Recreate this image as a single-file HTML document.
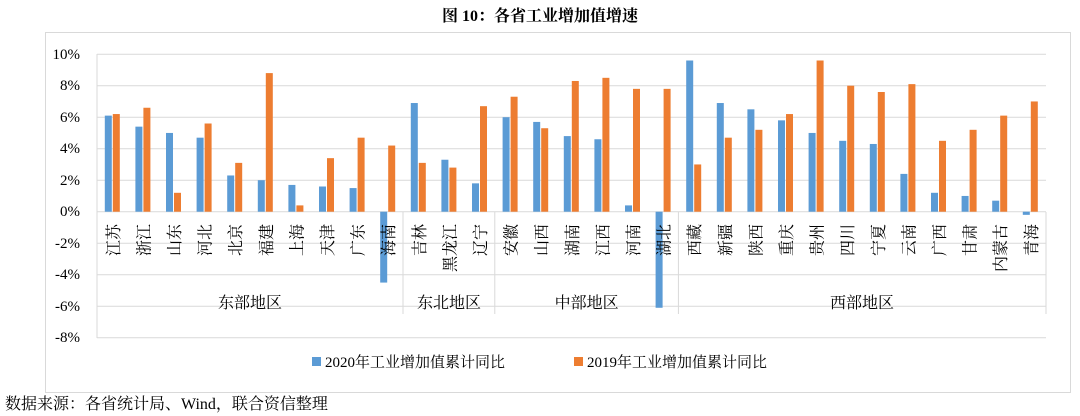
<!DOCTYPE html>
<html><head><meta charset="utf-8"><style>
body{margin:0;background:#fff;}
svg{display:block;font-family:"Liberation Serif","Noto Serif CJK SC",serif;}
</style></head><body>
<svg width="1080" height="416" viewBox="0 0 1080 416" xmlns="http://www.w3.org/2000/svg">
<text x="540" y="21" text-anchor="middle" font-size="16" font-weight="bold" fill="#000">图 10：各省工业增加值增速</text>
<rect x="45.5" y="32.5" width="1025" height="360" fill="none" stroke="#d9d9d9"/>
<g stroke="#d9d9d9" stroke-width="1">
<line x1="97" x2="1046" y1="54.2" y2="54.2"/>
<line x1="97" x2="1046" y1="85.7" y2="85.7"/>
<line x1="97" x2="1046" y1="117.2" y2="117.2"/>
<line x1="97" x2="1046" y1="148.7" y2="148.7"/>
<line x1="97" x2="1046" y1="180.2" y2="180.2"/>
<line x1="97" x2="1046" y1="243.2" y2="243.2"/>
<line x1="97" x2="1046" y1="274.7" y2="274.7"/>
<line x1="97" x2="1046" y1="306.2" y2="306.2"/>
<line x1="97" x2="1046" y1="337.7" y2="337.7"/>
<line x1="97" x2="97" y1="54" y2="338"/>
<line x1="97" x2="1046" y1="211.7" y2="211.7"/>
<line x1="403" x2="403" y1="212" y2="314"/>
<line x1="494.8" x2="494.8" y1="212" y2="314"/>
<line x1="678.4" x2="678.4" y1="212" y2="314"/>
<line x1="1046" x2="1046" y1="212" y2="314"/>
</g>
<g font-size="15" text-anchor="end" fill="#000">
<text x="80" y="59">10%</text><text x="80" y="90">8%</text><text x="80" y="122">6%</text>
<text x="80" y="153">4%</text><text x="80" y="185">2%</text><text x="80" y="216">0%</text>
<text x="80" y="248">-2%</text><text x="80" y="279">-4%</text><text x="80" y="311">-6%</text>
<text x="80" y="342">-8%</text>
</g>
<g transform="translate(0 211.7) scale(1 -15.75)">
<g fill="#5B9BD5">
<rect x="104.8" y="0" width="7" height="6.1"/><rect x="135.4" y="0" width="7" height="5.4"/>
<rect x="166" y="0" width="7" height="5.0"/><rect x="196.6" y="0" width="7" height="4.7"/>
<rect x="227.2" y="0" width="7" height="2.3"/><rect x="257.8" y="0" width="7" height="2.0"/>
<rect x="288.4" y="0" width="7" height="1.7"/><rect x="319" y="0" width="7" height="1.6"/>
<rect x="349.6" y="0" width="7" height="1.5"/><rect x="380.2" y="-4.5" width="7" height="4.5"/>
<rect x="410.8" y="0" width="7" height="6.9"/><rect x="441.4" y="0" width="7" height="3.3"/>
<rect x="472" y="0" width="7" height="1.8"/><rect x="502.6" y="0" width="7" height="6.0"/>
<rect x="533.2" y="0" width="7" height="5.7"/><rect x="563.8" y="0" width="7" height="4.8"/>
<rect x="594.4" y="0" width="7" height="4.6"/><rect x="625" y="0" width="7" height="0.4"/>
<rect x="655.6" y="-6.1" width="7" height="6.1"/><rect x="686.2" y="0" width="7" height="9.6"/>
<rect x="716.8" y="0" width="7" height="6.9"/><rect x="747.4" y="0" width="7" height="6.5"/>
<rect x="778" y="0" width="7" height="5.8"/><rect x="808.6" y="0" width="7" height="5.0"/>
<rect x="839.2" y="0" width="7" height="4.5"/><rect x="869.8" y="0" width="7" height="4.3"/>
<rect x="900.4" y="0" width="7" height="2.4"/><rect x="931" y="0" width="7" height="1.2"/>
<rect x="961.6" y="0" width="7" height="1.0"/><rect x="992.2" y="0" width="7" height="0.7"/>
<rect x="1022.8" y="-0.2" width="7" height="0.2"/>
</g>
<g fill="#ED7D31">
<rect x="112.8" y="0" width="7" height="6.2"/><rect x="143.4" y="0" width="7" height="6.6"/>
<rect x="174" y="0" width="7" height="1.2"/><rect x="204.6" y="0" width="7" height="5.6"/>
<rect x="235.2" y="0" width="7" height="3.1"/><rect x="265.8" y="0" width="7" height="8.8"/>
<rect x="296.4" y="0" width="7" height="0.4"/><rect x="327" y="0" width="7" height="3.4"/>
<rect x="357.6" y="0" width="7" height="4.7"/><rect x="388.2" y="0" width="7" height="4.2"/>
<rect x="418.8" y="0" width="7" height="3.1"/><rect x="449.4" y="0" width="7" height="2.8"/>
<rect x="480" y="0" width="7" height="6.7"/><rect x="510.6" y="0" width="7" height="7.3"/>
<rect x="541.2" y="0" width="7" height="5.3"/><rect x="571.8" y="0" width="7" height="8.3"/>
<rect x="602.4" y="0" width="7" height="8.5"/><rect x="633" y="0" width="7" height="7.8"/>
<rect x="663.6" y="0" width="7" height="7.8"/><rect x="694.2" y="0" width="7" height="3.0"/>
<rect x="724.8" y="0" width="7" height="4.7"/><rect x="755.4" y="0" width="7" height="5.2"/>
<rect x="786" y="0" width="7" height="6.2"/><rect x="816.6" y="0" width="7" height="9.6"/>
<rect x="847.2" y="0" width="7" height="8.0"/><rect x="877.8" y="0" width="7" height="7.6"/>
<rect x="908.4" y="0" width="7" height="8.1"/><rect x="939" y="0" width="7" height="4.5"/>
<rect x="969.6" y="0" width="7" height="5.2"/><rect x="1000.2" y="0" width="7" height="6.1"/>
<rect x="1030.8" y="0" width="7" height="7.0"/>
</g>
</g>
<g font-size="16" fill="#000" text-anchor="end" font-family="'Noto Serif CJK SC','Noto Sans CJK SC',serif">
<text transform="translate(118.8 224) rotate(-90)">江苏</text>
<text transform="translate(149.4 224) rotate(-90)">浙江</text>
<text transform="translate(180 224) rotate(-90)">山东</text>
<text transform="translate(210.6 224) rotate(-90)">河北</text>
<text transform="translate(241.2 224) rotate(-90)">北京</text>
<text transform="translate(271.8 224) rotate(-90)">福建</text>
<text transform="translate(302.4 224) rotate(-90)">上海</text>
<text transform="translate(333 224) rotate(-90)">天津</text>
<text transform="translate(363.6 224) rotate(-90)">广东</text>
<text transform="translate(394.2 224) rotate(-90)">海南</text>
<text transform="translate(424.8 224) rotate(-90)">吉林</text>
<text transform="translate(455.4 224) rotate(-90)">黑龙江</text>
<text transform="translate(486 224) rotate(-90)">辽宁</text>
<text transform="translate(516.6 224) rotate(-90)">安徽</text>
<text transform="translate(547.2 224) rotate(-90)">山西</text>
<text transform="translate(577.8 224) rotate(-90)">湖南</text>
<text transform="translate(608.4 224) rotate(-90)">江西</text>
<text transform="translate(639 224) rotate(-90)">河南</text>
<text transform="translate(669.6 224) rotate(-90)">湖北</text>
<text transform="translate(700.2 224) rotate(-90)">西藏</text>
<text transform="translate(730.8 224) rotate(-90)">新疆</text>
<text transform="translate(761.4 224) rotate(-90)">陕西</text>
<text transform="translate(792 224) rotate(-90)">重庆</text>
<text transform="translate(822.6 224) rotate(-90)">贵州</text>
<text transform="translate(853.2 224) rotate(-90)">四川</text>
<text transform="translate(883.8 224) rotate(-90)">宁夏</text>
<text transform="translate(914.4 224) rotate(-90)">云南</text>
<text transform="translate(945 224) rotate(-90)">广西</text>
<text transform="translate(975.6 224) rotate(-90)">甘肃</text>
<text transform="translate(1006.2 224) rotate(-90)">内蒙古</text>
<text transform="translate(1036.8 224) rotate(-90)">青海</text>
</g>
<g font-size="16" fill="#000" text-anchor="middle" font-family="'Noto Serif CJK SC','Noto Sans CJK SC',serif">
<text x="250" y="308">东部地区</text><text x="449" y="308">东北地区</text>
<text x="586.6" y="308">中部地区</text><text x="862" y="308">西部地区</text>
</g>
<rect x="312" y="357" width="9" height="9" fill="#5B9BD5"/>
<text x="325" y="367" font-size="15">2020年工业增加值累计同比</text>
<rect x="574" y="357" width="9" height="9" fill="#ED7D31"/>
<text x="587" y="367" font-size="15">2019年工业增加值累计同比</text>
<text x="5" y="409" font-size="16">数据来源：各省统计局、Wind，联合资信整理</text>
</svg>
</body></html>
